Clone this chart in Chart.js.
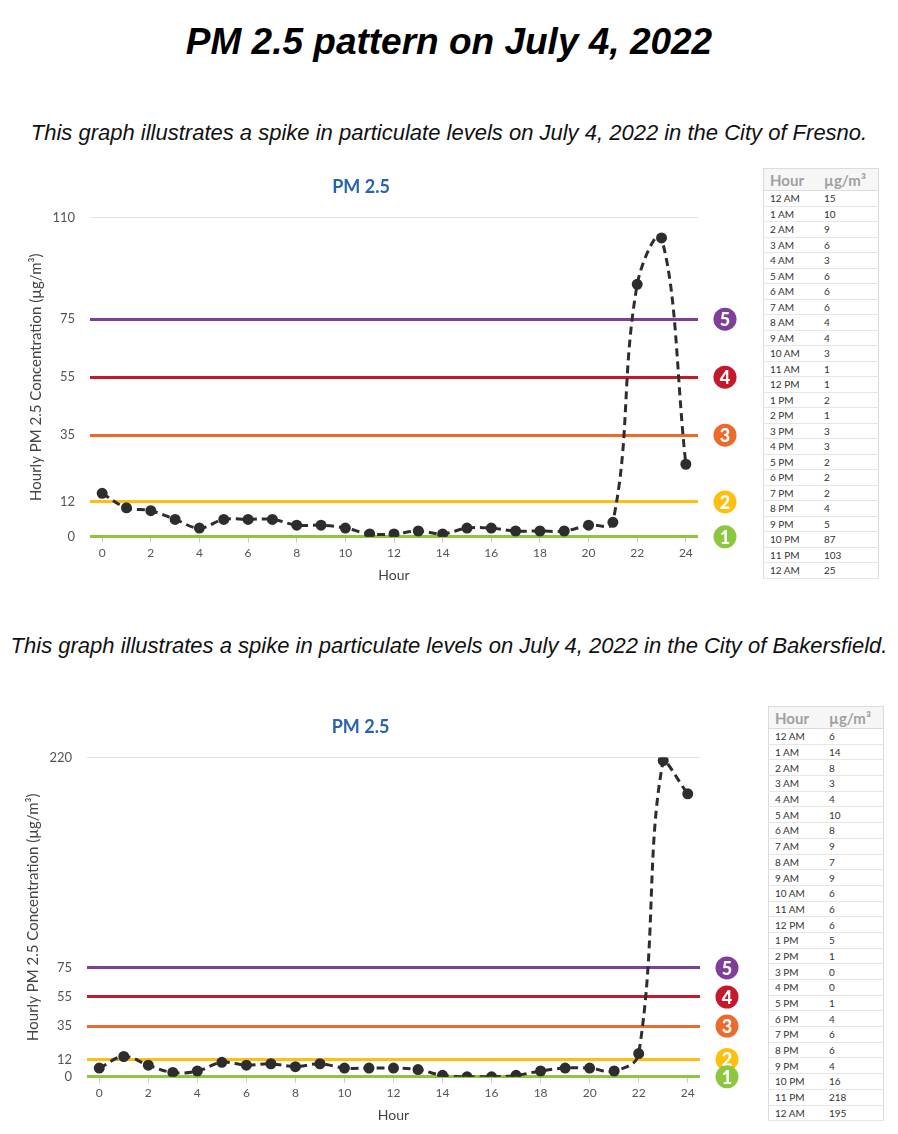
<!DOCTYPE html>
<html>
<head>
<meta charset="utf-8">
<title>PM 2.5 pattern on July 4, 2022</title>
<script src="https://cdn.jsdelivr.net/npm/chart.js"></script>
<style>
  body { margin: 0; background: #fff; width: 898px; height: 1134px; position: relative; font-family: "Liberation Sans", Arial, sans-serif; }
  .title { position: absolute; left: 0; width: 898px; top: 21px; text-align: center; font-size: 37px; font-weight: bold; font-style: italic; color: #000; }
  .sub { position: absolute; left: 0; width: 898px; text-align: center; font-size: 22px; font-style: italic; color: #111; }
  .box { position: absolute; }
  table.pm { position: absolute; border-collapse: collapse; font-family: Lato, sans-serif; border: 1px solid #dcdcdc; width: 116px; }
  table.pm th { font-size: 15px; font-weight: bold; color: #a0a0a0; text-align: left; height: 21px; padding: 0 0 0 6px; background: #f6f6f6; border-bottom: 1px solid #dcdcdc; }
  table.pm td { font-size: 10px; color: #333; padding: 0 0 0 6px; border-bottom: 1px solid #e6e6e6; }
  #fresnoTable td { height: 14.5px; }
  #bakersfieldTable td { height: 14.7px; }
</style>
</head>
<body>
<div class="title">PM 2.5 pattern on July 4, 2022</div>
<div class="sub" style="top:120px">This graph illustrates a spike in particulate levels on July 4, 2022 in the City of Fresno.</div>
<div class="sub" style="top:633px">This graph illustrates a spike in particulate levels on July 4, 2022 in the City of Bakersfield.</div>

<div class="box" style="left:24px; top:176px; width:714px; height:410px;"><canvas id="fresno"></canvas></div>
<table class="pm" id="fresnoTable" style="left:763px; top:168px;"></table>

<div class="box" style="left:21px; top:716px; width:719px; height:410px;"><canvas id="bakersfield"></canvas></div>
<table class="pm" id="bakersfieldTable" style="left:768px; top:706px;"></table>

<script>
const hours = [0, 1, 2, 3, 4, 5, 6, 7, 8, 9, 10, 11, 12, 13, 14, 15, 16, 17, 18, 19, 20, 21, 22, 23, 24];
const hourLabels = ["12 AM", "1 AM", "2 AM", "3 AM", "4 AM", "5 AM", "6 AM", "7 AM", "8 AM", "9 AM", "10 AM", "11 AM",
  "12 PM", "1 PM", "2 PM", "3 PM", "4 PM", "5 PM", "6 PM", "7 PM", "8 PM", "9 PM", "10 PM", "11 PM", "12 AM"];
const fresnoPM = [15, 10, 9, 6, 3, 6, 6, 6, 4, 4, 3, 1, 1, 2, 1, 3, 3, 2, 2, 2, 4, 5, 87, 103, 25];
const bakersfieldPM = [6, 14, 8, 3, 4, 10, 8, 9, 7, 9, 6, 6, 6, 5, 1, 0, 0, 1, 4, 6, 6, 4, 16, 218, 195];

const xTicks = [0, 2, 4, 6, 8, 10, 12, 14, 16, 18, 20, 22, 24];
const fresnoTicks = [0, 12, 35, 55, 75, 110];
const bakersfieldTicks = [0, 12, 35, 55, 75, 220];

// AQI break points, their colours and badge numbers
const levels = [0, 12, 35, 55, 75];
const levelColors = ["#8dc63f", "#fdc010", "#ec6a2c", "#c4182d", "#7e3f98"];
const levelNumbers = ["1", "2", "3", "4", "5"];

const badges = {
  id: "badges",
  afterDraw(chart) {
    const ctx = chart.ctx;
    const y = chart.scales.y;
    const cx = chart.chartArea.right + 27;
    ctx.save();
    for (let i = levels.length - 1; i >= 0; i--) {
      const cy = y.getPixelForValue(levels[i]);
      ctx.beginPath();
      ctx.arc(cx, cy, 11.5, 0, Math.PI * 2);
      ctx.fillStyle = levelColors[i];
      ctx.fill();
      ctx.fillStyle = "#fff";
      ctx.font = "900 18px Lato";
      ctx.textAlign = "center";
      ctx.textBaseline = "middle";
      ctx.fillText(levelNumbers[i], cx, cy + 1);
    }
    ctx.restore();
  }
};

function gridColor(c) {
  const v = c.tick ? c.tick.value : null;
  const i = levels.indexOf(v);
  return i >= 0 ? levelColors[i] : "#e2e2e2";
}

function makeChart(id, values, yTicks) {
  const yMax = yTicks[yTicks.length - 1];
  return new Chart(document.getElementById(id), {
    type: "line",
    data: {
      datasets: [{
        data: hours.map((h, i) => ({ x: h, y: values[i] })),
        borderColor: "#2d2d2d",
        backgroundColor: "#2d2d2d",
        borderWidth: 3,
        borderDash: [8, 5],
        pointRadius: 4,
        pointHoverRadius: 5,
        tension: 0.4,
        fill: false
      }]
    },
    options: {
      responsive: true,
      maintainAspectRatio: false,
      animation: false,
      layout: { padding: { right: 40, bottom: 2 } },
      plugins: {
        legend: { display: false },
        tooltip: { enabled: false },
        title: {
          display: true,
          text: "PM 2.5",
          color: "#2a63ad",
          font: { family: "Lato", size: 18 },
          padding: { top: 0, bottom: 20 }
        }
      },
      scales: {
        x: {
          type: "linear",
          min: -0.5,
          max: 24.5,
          afterBuildTicks: s => { s.ticks = xTicks.map(v => ({ value: v })); },
          grid: { drawOnChartArea: false, drawTicks: true, tickLength: 6, color: "#cccccc" },
          border: { display: false },
          ticks: { color: "#555", font: { family: "Lato", size: 12 }, padding: 3 },
          title: { display: true, text: "Hour", color: "#444", font: { family: "Lato", size: 14 }, padding: { top: 4, bottom: 0 } }
        },
        y: {
          min: 0,
          max: yMax,
          afterBuildTicks: s => { s.ticks = yTicks.map(v => ({ value: v })); },
          afterFit: s => { s.width = 66; },
          grid: { drawTicks: false, color: gridColor, lineWidth: c => (levels.includes(c.tick.value) ? 3 : 1) },
          border: { display: false },
          ticks: { color: "#555", font: { family: "Lato", size: 13 }, padding: 15 },
          title: { display: true, text: "Hourly PM 2.5 Concentration (µg/m³)", color: "#444", font: { family: "Lato", size: 15 }, padding: { top: 3, bottom: 0 } }
        }
      }
    },
    plugins: [badges]
  });
}

function fillTable(id, values) {
  const t = document.getElementById(id);
  let html = "<tr><th style='width:48px'>Hour</th><th>µg/m³</th></tr>";
  hourLabels.forEach((h, i) => { html += "<tr><td>" + h + "</td><td>" + values[i] + "</td></tr>"; });
  t.innerHTML = html;
}

makeChart("fresno", fresnoPM, fresnoTicks);
makeChart("bakersfield", bakersfieldPM, bakersfieldTicks);
fillTable("fresnoTable", fresnoPM);
fillTable("bakersfieldTable", bakersfieldPM);
</script>
</body>
</html>
